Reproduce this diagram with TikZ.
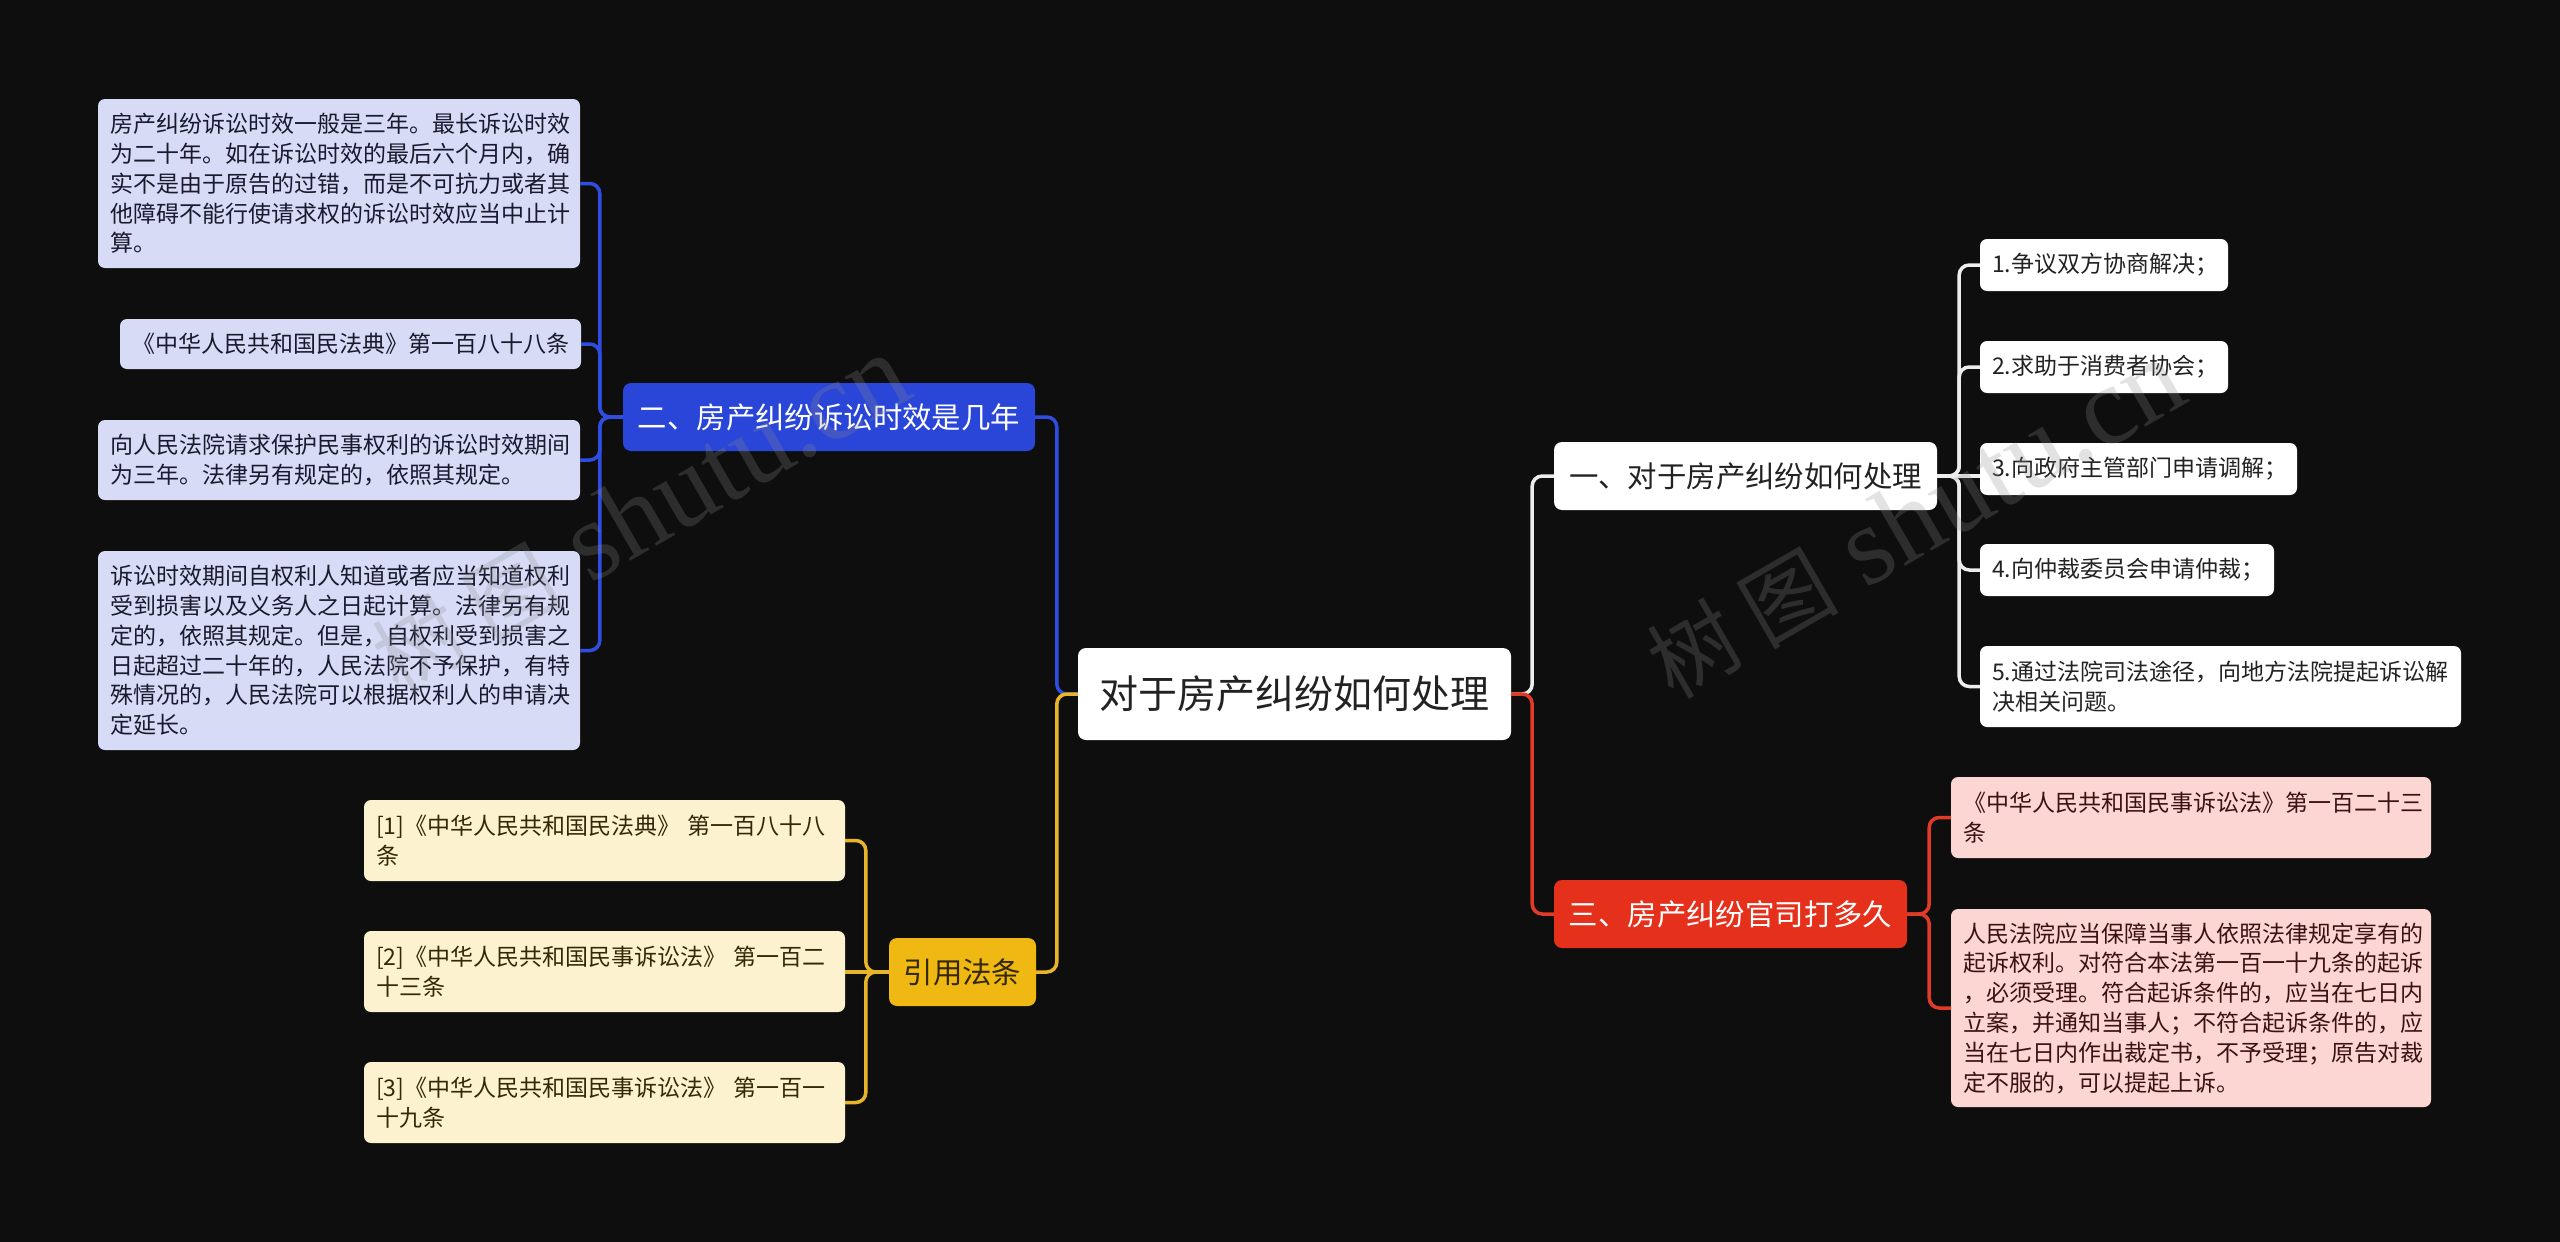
\documentclass[tikz,border=0pt]{standalone}
\usepackage{fontspec}
\setmainfont{Noto Sans CJK SC}
\newfontfamily\wmserif{Liberation Serif}
\definecolor{bg}{HTML}{0E0E0E}
\definecolor{bluen}{HTML}{2A46D8}
\definecolor{bluel}{HTML}{2F4DE0}
\definecolor{bluec}{HTML}{D8DBF6}
\definecolor{bluet}{HTML}{1A1A2E}
\definecolor{yeln}{HTML}{EFB812}
\definecolor{yell}{HTML}{E8B42A}
\definecolor{yelc}{HTML}{FDF2CF}
\definecolor{yelt}{HTML}{33290A}
\definecolor{redn}{HTML}{E5301C}
\definecolor{redl}{HTML}{E13A26}
\definecolor{redc}{HTML}{FCD6D3}
\definecolor{redt}{HTML}{3A1212}
\definecolor{whl}{HTML}{EDEDED}
\definecolor{dtext}{HTML}{222222}
\definecolor{wmgray}{HTML}{8C8C8C}
\tikzset{
  leaf/.style={rounded corners=7pt, inner xsep=12pt, inner ysep=0pt, align=left,
    font=\fontsize{23}{29.8}\selectfont},
  mainnode/.style={rounded corners=8pt, inner sep=0pt, align=center,
    font=\fontsize{29.4}{34}\selectfont},
  conn/.style={line width=3.5pt, rounded corners=10pt},
  wm/.style={text=wmgray, text opacity=0.25, inner sep=0pt, rotate=30},
}
\begin{document}
\begin{tikzpicture}[x=1pt,y=-1pt]
\fill[bg] (0,0) rectangle (2560,1242);
\useasboundingbox (0,0) rectangle (2560,1242);

% root
\node[rounded corners=8pt, inner sep=0pt, fill=white, text=dtext,
  minimum width=433pt, minimum height=92pt, font=\fontsize{39}{44}\selectfont]
  (root) at (1294.5,694) {对于房产纠纷如何处理};

% level 1
\node[mainnode, fill=bluen, text=white, minimum width=412pt, minimum height=68pt]
  (blue1) at (829,417) {二、房产纠纷诉讼时效是几年};
\node[mainnode, fill=yeln, text=yelt, minimum width=147pt, minimum height=68pt]
  (yel1) at (962.5,972) {引用法条};
\node[mainnode, fill=white, text=dtext, minimum width=383pt, minimum height=68pt]
  (wh1) at (1745.5,476) {一、对于房产纠纷如何处理};
\node[mainnode, fill=redn, text=white, minimum width=353pt, minimum height=68pt]
  (red1) at (1730.5,914) {三、房产纠纷官司打多久};

% blue leaves
\node[leaf, fill=bluec, text=bluet, text width=458pt, minimum height=169pt]
  (ba) at (339,183.5) {房产纠纷诉讼时效一般是三年。最长诉讼时效\\为二十年。如在诉讼时效的最后六个月内，确\\实不是由于原告的过错，而是不可抗力或者其\\他障碍不能行使请求权的诉讼时效应当中止计\\算。};
\node[leaf, fill=bluec, text=bluet, text width=437pt, minimum height=50pt]
  (bb) at (350.5,344) {《中华人民共和国民法典》第一百八十八条};
\node[leaf, fill=bluec, text=bluet, text width=458pt, minimum height=80pt]
  (bc) at (339,460) {向人民法院请求保护民事权利的诉讼时效期间\\为三年。法律另有规定的，依照其规定。};
\node[leaf, fill=bluec, text=bluet, text width=458pt, minimum height=199pt]
  (bd) at (339,650.5) {诉讼时效期间自权利人知道或者应当知道权利\\受到损害以及义务人之日起计算。法律另有规\\定的，依照其规定。但是，自权利受到损害之\\日起超过二十年的，人民法院不予保护，有特\\殊情况的，人民法院可以根据权利人的申请决\\定延长。};

% yellow leaves
\node[leaf, fill=yelc, text=yelt, text width=457pt, minimum height=81pt]
  (ya) at (604.5,840.5) {[1]《中华人民共和国民法典》 第一百八十八\\条};
\node[leaf, fill=yelc, text=yelt, text width=457pt, minimum height=81pt]
  (yb) at (604.5,971.5) {[2]《中华人民共和国民事诉讼法》 第一百二\\十三条};
\node[leaf, fill=yelc, text=yelt, text width=457pt, minimum height=81pt]
  (yc) at (604.5,1102.5) {[3]《中华人民共和国民事诉讼法》 第一百一\\十九条};

% white leaves
\node[leaf, fill=white, text=dtext, text width=224pt, minimum height=52pt]
  (wa) at (2104,265) {1.争议双方协商解决；};
\node[leaf, fill=white, text=dtext, text width=224pt, minimum height=52pt]
  (wb) at (2104,367) {2.求助于消费者协会；};
\node[leaf, fill=white, text=dtext, text width=293pt, minimum height=52pt]
  (wc) at (2138.5,469) {3.向政府主管部门申请调解；};
\node[leaf, fill=white, text=dtext, text width=270pt, minimum height=52pt]
  (wd) at (2127,570) {4.向仲裁委员会申请仲裁；};
\node[leaf, fill=white, text=dtext, text width=457pt, minimum height=81pt]
  (we) at (2220.5,686.5) {5.通过法院司法途径，向地方法院提起诉讼解\\决相关问题。};

% red leaves
\node[leaf, fill=redc, text=redt, text width=456pt, minimum height=81pt]
  (ra) at (2191,817.5) {《中华人民共和国民事诉讼法》第一百二十三\\条};
\node[leaf, fill=redc, text=redt, text width=456pt, minimum height=198pt]
  (rb) at (2191,1008) {人民法院应当保障当事人依照法律规定享有的\\起诉权利。对符合本法第一百一十九条的起诉\\，必须受理。符合起诉条件的，应当在七日内\\立案，并通知当事人；不符合起诉条件的，应\\当在七日内作出裁定书，不予受理；原告对裁\\定不服的，可以提起上诉。};

% connectors root -> level 1
\draw[conn, bluel] (root.west) -- ++(-21,0) |- (blue1.east);
\draw[conn, yell] (root.west) -- ++(-21,0) |- (yel1.east);
\draw[conn, whl] (root.east) -- ++(21,0) |- (wh1.west);
\draw[conn, redl] (root.east) -- ++(21,0) |- (red1.west);

% blue
\draw[conn, bluel] (blue1.west) -- ++(-23,0) |- (ba.east);
\draw[conn, bluel] (blue1.west) -- ++(-23,0) |- (bb.east);
\draw[conn, bluel] (blue1.west) -- ++(-23,0) |- (bc.east);
\draw[conn, bluel] (blue1.west) -- ++(-23,0) |- (bd.east);

% yellow
\draw[conn, yell] (yel1.west) -- ++(-23,0) |- (ya.east);
\draw[conn, yell] (yel1.west) -- (yel1.west -| yb.east);
\draw[conn, yell] (yel1.west) -- ++(-23,0) |- (yc.east);

% white
\draw[conn, whl] (wh1.east) -- ++(22,0) |- (wa.west);
\draw[conn, whl] (wh1.east) -- ++(22,0) |- (wb.west);
\draw[conn, whl] (wh1.east) -- (wh1.east -| wc.west);
\draw[conn, whl] (wh1.east) -- ++(22,0) |- (wd.west);
\draw[conn, whl] (wh1.east) -- ++(22,0) |- (we.west);

% red
\draw[conn, redl] (red1.east) -- ++(22,0) |- (ra.west);
\draw[conn, redl] (red1.east) -- ++(22,0) |- (rb.west);

% watermarks
\node[wm] (wm1) at (640,515) {{\fontsize{88}{88}\selectfont 树\hspace{18pt}图}\hspace{28pt}{\wmserif\fontsize{112}{112}\selectfont shutu.cn}};
\node[wm] (wm2) at (1915,520) {{\fontsize{88}{88}\selectfont 树\hspace{18pt}图}\hspace{28pt}{\wmserif\fontsize{112}{112}\selectfont shutu.cn}};
\end{tikzpicture}
\end{document}
